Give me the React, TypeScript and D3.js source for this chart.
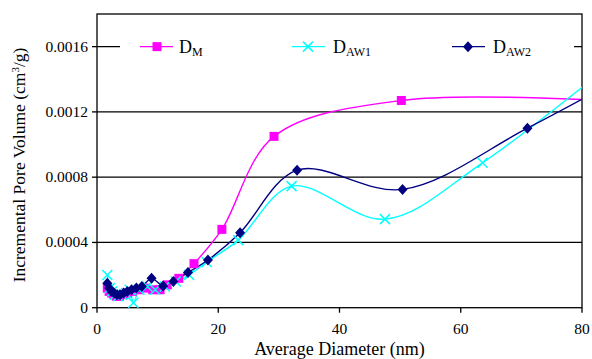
import React from 'react';
import { scaleLinear, line, curveCatmullRom } from 'd3';

// Incremental pore volume vs average diameter
const xM = [1.7, 2.0, 2.4, 2.8, 3.2, 3.7, 4.3, 5.0, 5.8, 6.8, 8.0, 9.2, 10.4, 11.6, 13.5, 16.0, 20.6, 29.2, 50.2, 88];
const yM = [0.00012, 0.0001, 0.00009, 0.00008, 0.00007, 0.00007, 0.00008, 0.00009, 0.0001, 0.00011, 0.00012, 0.00011, 0.00011, 0.00014, 0.00018, 0.00027, 0.00048, 0.00105, 0.00127, 0.00126];

const xAW1 = [1.7, 2.1, 2.5, 3.0, 3.5, 4.1, 4.8, 5.4, 6.0, 7.0, 8.3, 9.6, 11.2, 13.0, 15.2, 18.1, 23.3, 32.1, 47.5, 63.6, 90];
const yAW1 = [0.0002, 0.00012, 0.0001, 0.00008, 0.00007, 0.00008, 0.00009, 0.00011, 0.00003, 0.00011, 0.00013, 0.00011, 0.00013, 0.00016, 0.0002, 0.00028, 0.000414, 0.000745, 0.000543, 0.000888, 0.00165];

const xAW2 = [1.7, 2.0, 2.4, 2.8, 3.3, 3.8, 4.4, 5.0, 5.7, 6.5, 7.4, 9.0, 10.9, 12.6, 15.0, 18.3, 23.6, 33.0, 50.4, 71.0, 90];
const yAW2 = [0.00015, 0.00012, 0.0001, 0.00009, 0.00008, 0.00008, 0.00009, 0.0001, 0.00011, 0.00012, 0.00013, 0.00018, 0.000133, 0.00016, 0.000215, 0.000292, 0.00046, 0.000843, 0.000725, 0.0011, 0.00148];

const xTicks = [0, 20, 40, 60, 80];
const yTicks = [0, 0.0004, 0.0008, 0.0012, 0.0016];

const font = "'Liberation Serif', 'DejaVu Serif', serif";

const W = 592;
const H = 359;
const left = 97;
const right = 582;
const top = 14;
const bottom = 307.7;

const x = scaleLinear().domain([0, 80]).range([left, right]);
const y = scaleLinear().domain([0, 0.0018]).range([bottom, top]);

const curve = line<[number, number]>()
  .x(d => x(d[0]))
  .y(d => y(d[1]))
  .curve(curveCatmullRom.alpha(0.5));

const zip = (xs: number[], ys: number[]) => xs.map((v, i) => [v, ys[i]] as [number, number]);

const MAGENTA = '#ff00ff';
const CYAN = '#00ffff';
const NAVY = '#000080';

const Square = ({ cx, cy }: { cx: number; cy: number }) => (
  <rect x={cx - 4.5} y={cy - 4.5} width={9} height={9} fill={MAGENTA} />
);
const Cross = ({ cx, cy }: { cx: number; cy: number }) => (
  <path d={`M${cx - 5},${cy - 5}L${cx + 5},${cy + 5}M${cx - 5},${cy + 5}L${cx + 5},${cy - 5}`} stroke={CYAN} strokeWidth={1.5} />
);
const Diamond = ({ cx, cy }: { cx: number; cy: number }) => (
  <path d={`M${cx},${cy - 5.5}L${cx + 5},${cy}L${cx},${cy + 5.5}L${cx - 5},${cy}Z`} fill={NAVY} />
);

const App = () => {
  const dM = zip(xM, yM);
  const d1 = zip(xAW1, yAW1);
  const d2 = zip(xAW2, yAW2);
  const inside = (d: [number, number]) => d[0] <= 80;
  const ly = y(0.0016);

  return (
    <svg width={W} height={H} style={{ position: 'absolute', left: 0, top: 0, background: '#fff', fontFamily: font }}>
      <defs>
        <clipPath id="plot">
          <rect x={left} y={top} width={right - left} height={bottom - top} />
        </clipPath>
      </defs>

      {/* gridlines */}
      {yTicks.slice(1).map(t => (
        <line key={t} x1={left} x2={right} y1={y(t)} y2={y(t)} stroke="#000" strokeWidth={1.3} />
      ))}

      {/* legend box covering top gridline */}
      <rect x={120} y={31} width={454} height={31} fill="#fff" />

      {/* frame */}
      <rect x={left} y={top} width={right - left} height={bottom - top} fill="none" stroke="#000" strokeWidth={1.3} />

      {/* y axis ticks */}
      {yTicks.map(t => (
        <g key={t}>
          <line x1={left - 5} x2={left} y1={y(t)} y2={y(t)} stroke="#000" strokeWidth={1.3} />
          <text x={88} y={y(t) + 5} textAnchor="end" fontSize={15.5} style={{ fontFamily: font }}>
            {t === 0 ? '0' : t.toFixed(4)}
          </text>
        </g>
      ))}

      {/* x axis ticks */}
      {xTicks.map(t => (
        <g key={t}>
          <line x1={x(t)} x2={x(t)} y1={bottom} y2={bottom + 5} stroke="#000" strokeWidth={1.3} />
          <text x={x(t)} y={334} textAnchor="middle" fontSize={15.5} style={{ fontFamily: font }}>
            {t}
          </text>
        </g>
      ))}

      <text x={(left + right) / 2} y={355} textAnchor="middle" fontSize={18} style={{ fontFamily: font }}>
        Average Diameter (nm)
      </text>
      <text transform={`translate(25,165) rotate(-90)`} textAnchor="middle" fontSize={17.5} style={{ fontFamily: font }}>
        Incremental Pore Volume (cm<tspan dy={-6} fontSize={11}>3</tspan>
        <tspan dy={6}>/g)</tspan>
      </text>

      <g clipPath="url(#plot)" fill="none">
        <path d={curve(dM) || ''} stroke={MAGENTA} strokeWidth={1.4} />
        <path d={curve(d1) || ''} stroke={CYAN} strokeWidth={1.4} />
        <path d={curve(d2) || ''} stroke={NAVY} strokeWidth={1.4} />
      </g>

      {dM.filter(inside).map((d, i) => (
        <Square key={i} cx={x(d[0])} cy={y(d[1])} />
      ))}
      {d1.filter(inside).map((d, i) => (
        <Cross key={i} cx={x(d[0])} cy={y(d[1])} />
      ))}
      {d2.filter(inside).map((d, i) => (
        <Diamond key={i} cx={x(d[0])} cy={y(d[1])} />
      ))}

      {/* legend */}
      <g style={{ fontFamily: font }}>
        <line x1={140} x2={173} y1={ly} y2={ly} stroke={MAGENTA} strokeWidth={1.4} />
        <Square cx={157} cy={ly} />
        <text x={179} y={ly + 6} fontSize={18}>
          D<tspan dy={3} fontSize={12}>M</tspan>
        </text>

        <line x1={292} x2={325} y1={ly} y2={ly} stroke={CYAN} strokeWidth={1.4} />
        <Cross cx={308} cy={ly} />
        <text x={333} y={ly + 6} fontSize={18}>
          D<tspan dy={3} fontSize={12}>AW1</tspan>
        </text>

        <line x1={452} x2={485} y1={ly} y2={ly} stroke={NAVY} strokeWidth={1.4} />
        <Diamond cx={468} cy={ly} />
        <text x={493} y={ly + 6} fontSize={18}>
          D<tspan dy={3} fontSize={12}>AW2</tspan>
        </text>
      </g>
    </svg>
  );
};

export default App;
